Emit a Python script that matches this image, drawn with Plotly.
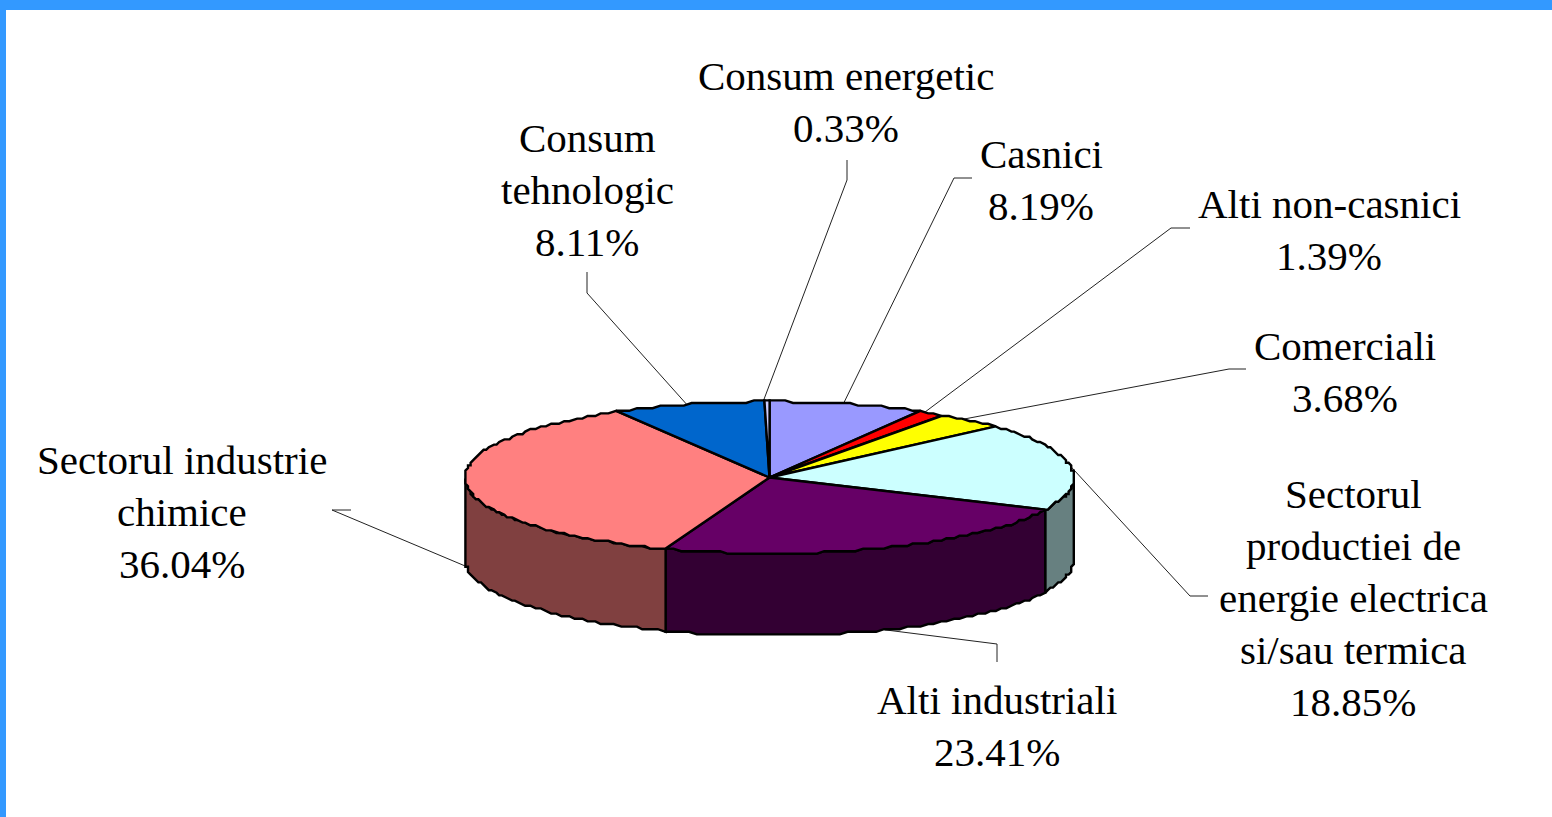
import math
import plotly.graph_objects as go

categories = ["Casnici", "Alti non-casnici", "Comerciali",
              "Sectorul productiei de energie electrica si/sau termica",
              "Alti industriali", "Sectorul industrie chimice",
              "Consum tehnologic", "Consum energetic"]
values = [8.19, 1.39, 3.68, 18.85, 23.41, 36.04, 8.11, 0.33]
label_lines = [["Casnici"], ["Alti non-casnici"], ["Comerciali"],
               ["Sectorul", "productiei de", "energie electrica", "si/sau termica"],
               ["Alti industriali"], ["Sectorul industrie", "chimice"],
               ["Consum", "tehnologic"], ["Consum energetic"]]
top_colors = ["#9999FF", "#FF0000", "#FFFF00", "#CCFFFF", "#660066", "#FF8080", "#0066CC", "#CCCCFF"]
side_colors = ["#4D4D80", "#800000", "#808000", "#678080", "#330033", "#804040", "#003366", "#666680"]

# layout of the drawing, in page pixels
W, H = 1552, 817
CX, CY, RX, RY, DEPTH = 769.5, 477.5, 304.5, 76, 82
STEP = 2.6              # stair-step grid of the rim outline
LINE_GAP = 52
label_pos = [(1041, 180), (1329, 230), (1345, 372), (1353, 598), (997, 726), (182, 512), (587, 190), (846, 102)]
elbows = [[(972, 178), (954, 178)], [(1190, 228), (1171, 228)], [(1246, 369), (1229, 369)],
          [(1208, 596), (1190, 596)], [(997, 662), (997, 644)], [(351, 510), (332, 510)],
          [(587, 272), (587, 293)], [(847, 160), (847, 180)]]
anchor_shift = [-0.7, -1.3, -1.4, 0, 0, 0, 0, -0.6]
FONT = dict(family="Liberation Serif", size=41, color="black")


def pt(deg, dz=0):
    a = math.radians(deg)
    return CX + RX * math.sin(a), CY - RY * math.cos(a) + dz


def rim(deg, dz=0):
    x, y = pt(deg, dz)
    return round(x / STEP) * STEP, round(y / STEP) * STEP


def arc(a0, a1, dz=0):
    n = max(2, int(abs(a1 - a0) / 1.5) + 1)
    return [rim(a0 + (a1 - a0) * i / (n - 1), dz) for i in range(n)]


total = sum(values)
bounds = [0]
for v in values:
    bounds.append(bounds[-1] + v / total * 360)

fig = go.Figure()


def poly(points, fill, width=2.4, color="black", closed=True):
    xs = [p[0] for p in points]
    ys = [p[1] for p in points]
    if closed:
        xs.append(xs[0])
        ys.append(ys[0])
    fig.add_trace(go.Scatter(x=xs, y=ys, mode="lines", fill="toself" if closed else None,
                             fillcolor=fill, line=dict(color=color, width=width),
                             hoverinfo="skip", showlegend=False))


# leader lines
for i in range(len(values)):
    mid = (bounds[i] + bounds[i + 1]) / 2 + anchor_shift[i]
    anchor = pt(mid, DEPTH if i in (4, 5) else 0)
    poly(elbows[i] + [anchor], None, width=1, color="#222222", closed=False)

# side walls (front half only)
for i in range(len(values)):
    a0, a1 = max(bounds[i], 90), min(bounds[i + 1], 270)
    if a1 > a0:
        poly(arc(a0, a1) + arc(a1, a0, DEPTH), side_colors[i])

# top faces
for i in range(len(values)):
    poly([(CX, CY)] + arc(bounds[i], bounds[i + 1]), top_colors[i])

annotations = []
for i, lines in enumerate(label_lines):
    rows = lines + [f"{values[i]:.2f}%"]
    for j, row in enumerate(rows):
        annotations.append(dict(x=label_pos[i][0],
                                y=label_pos[i][1] + (j - (len(rows) - 1) / 2) * LINE_GAP,
                                xref="x", yref="y", text=row, showarrow=False, font=FONT,
                                xanchor="center", yanchor="middle"))

BLUE = "#3399FF"
shapes = [dict(type="rect", xref="x", yref="y", x0=0, x1=W, y0=0, y1=10, fillcolor=BLUE, line_width=0),
          dict(type="rect", xref="x", yref="y", x0=0, x1=6, y0=0, y1=H, fillcolor=BLUE, line_width=0)]

fig.update_layout(width=W, height=H, margin=dict(l=0, r=0, t=0, b=0),
                  paper_bgcolor="white", plot_bgcolor="white", showlegend=False,
                  xaxis=dict(range=[0, W], visible=False, fixedrange=True),
                  yaxis=dict(range=[H, 0], visible=False, fixedrange=True),
                  annotations=annotations, shapes=shapes)

fig.write_html("out.html", config=dict(displayModeBar=False),
               post_script="document.body.style.margin='0';document.body.style.overflow='hidden';")
